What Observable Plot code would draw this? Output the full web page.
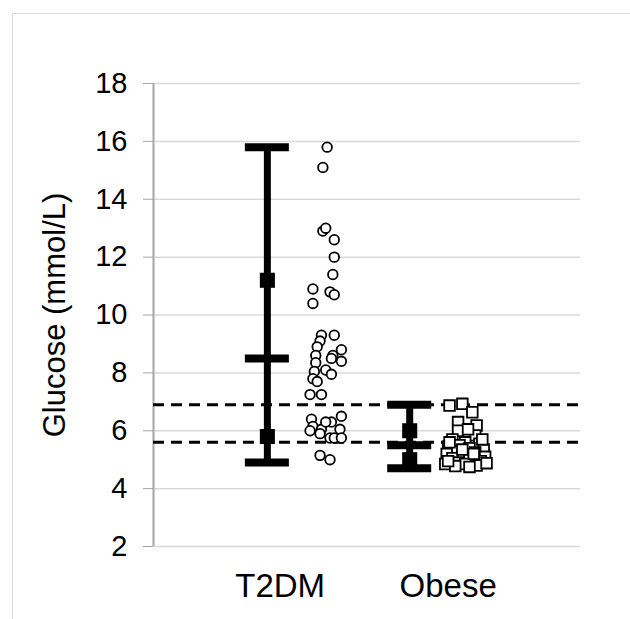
<!DOCTYPE html>
<html>
<head>
<meta charset="utf-8">
<script src="https://cdn.jsdelivr.net/npm/d3@7"></script>
<script src="https://cdn.jsdelivr.net/npm/@observablehq/plot@0.6"></script>
<style>
  html, body { margin: 0; padding: 0; background: #fff; }
  #wrap { position: relative; width: 630px; height: 619px; overflow: hidden; }
  #border { position: absolute; left: 12px; top: 13px; width: 700px; height: 700px;
            border-left: 1.5px solid #d9d9d9; border-top: 1.5px solid #d9d9d9; }
  #chart { position: absolute; left: 0; top: 0; }
</style>
</head>
<body>
<div id="wrap"><div id="border"></div><div id="chart"></div></div>
<script>
// ---- data ----
const groups = ["T2DM", "Obese"];
const groupX = [1, 2];
const labelX = [1.09, 2.27];
const barMin = [4.9, 4.7];
const barMax = [15.8, 6.9];
const barMean = [8.5, 5.5];
const barSdLow = [5.8, 5.0];
const barSdHigh = [11.2, 6.0];
const refLines = [6.9, 5.6];
const yTicks = [2, 4, 6, 8, 10, 12, 14, 16, 18];
const xDomain = [0.2, 3.2];
const yLabel = "Glucose (mmol/L)";

const t2dmX = [1.42,1.39,1.39,1.41,1.47,1.47,1.46,1.32,1.44,1.47,1.32,1.38,1.47,1.37,1.35,1.52,1.34,1.46,1.52,1.45,1.34,1.41,1.33,1.45,1.32,1.35,1.30,1.38,1.31,1.45,1.52,1.32,1.38,1.41,1.51,1.44,1.37,1.47,1.52,1.30,1.37,1.44];
const t2dmY = [15.8,15.1,12.9,13.0,12.6,12.0,11.4,10.9,10.8,10.7,10.4,9.3,9.3,9.1,8.9,8.8,8.6,8.6,8.4,8.5,8.35,8.1,8.05,7.95,7.8,7.7,7.25,7.25,6.4,6.3,6.5,6.15,6.05,6.3,6.05,5.75,5.9,5.75,5.75,6.0,5.15,5.0];

const obeseX = [2.28,2.37,2.44,2.34,2.47,2.34,2.46,2.30,2.39,2.49,2.27,2.35,2.42,2.52,2.32,2.46,2.26,2.37,2.53,2.30,2.42,2.50,2.34,2.25,2.39,2.47,2.54,2.32,2.42,2.37,2.28,2.51,2.41,2.27,2.45];
const obeseY = [6.87,6.93,6.64,6.3,6.18,6.0,5.84,5.7,5.6,5.55,5.45,5.5,5.4,5.35,5.3,5.25,5.2,5.15,5.1,5.05,5.0,4.95,4.9,4.85,4.85,4.8,4.88,4.78,4.75,5.35,5.6,5.7,6.05,4.95,5.2];

// ---- tables ----
const bars = groups.map((g, i) => ({g, x: groupX[i], min: barMin[i], max: barMax[i], mean: barMean[i], lo: barSdLow[i], hi: barSdHigh[i]}));
const caps = bars.flatMap(b => [b.min, b.mean, b.max].map(y => ({x: b.x, y})));
const sdMarks = bars.flatMap(b => [b.lo, b.hi].map(y => ({x: b.x, y})));
const t2dm = t2dmY.map((y, i) => ({x: t2dmX[i], y}));
const obese = obeseY.map((y, i) => ({x: obeseX[i], y}));

const font = "'Liberation Sans', Arial, sans-serif";

const chart = Plot.plot({
  width: 630,
  height: 619,
  marginLeft: 153,
  marginRight: 50,
  marginTop: 83,
  marginBottom: 73,
  style: {fontFamily: font, background: "transparent", color: "#000"},
  x: {domain: xDomain, axis: null},
  y: {domain: [2, 18]},
  marks: [
    Plot.gridY(yTicks, {stroke: "#d9d9d9", strokeOpacity: 1, strokeWidth: 1.5}),
    Plot.ruleX([xDomain[0]], {stroke: "#a6a6a6", strokeWidth: 2}),
    Plot.axisY({ticks: yTicks, tickSize: 10, tickPadding: 16, stroke: "#a6a6a6", fontSize: 29, fill: "#000", label: null}),
    Plot.axisX({ticks: labelX, tickFormat: (d, i) => groups[i], tickSize: 0, tickPadding: 27, fontSize: 33, fill: "#000", label: null}),
    Plot.text([yLabel], {text: d => d, frameAnchor: "left", textAnchor: "middle", lineAnchor: "middle", rotate: -90, dx: -98, fontSize: 31, fill: "#000"}),
    Plot.ruleY(refLines, {stroke: "#000", strokeWidth: 3, strokeDasharray: "11,7"}),
    Plot.ruleX(bars, {x: "x", y1: "min", y2: "max", stroke: "#000", strokeWidth: 7}),
    Plot.ruleY(caps, {x1: "x", x2: "x", y: "y", insetLeft: -22, insetRight: -22, stroke: "#000", strokeWidth: 8}),
    Plot.dot(sdMarks, {x: "x", y: "y", symbol: "square", r: 8.5, fill: "#000", stroke: "none"}),
    Plot.dot(t2dm, {x: "x", y: "y", r: 4.8, fill: "#fff", stroke: "#000", strokeWidth: 1.8}),
    Plot.dot(obese, {x: "x", y: "y", symbol: "square", r: 6, fill: "#fff", stroke: "#000", strokeWidth: 1.8})
  ]
});
document.getElementById("chart").appendChild(chart);
</script>
</body>
</html>
